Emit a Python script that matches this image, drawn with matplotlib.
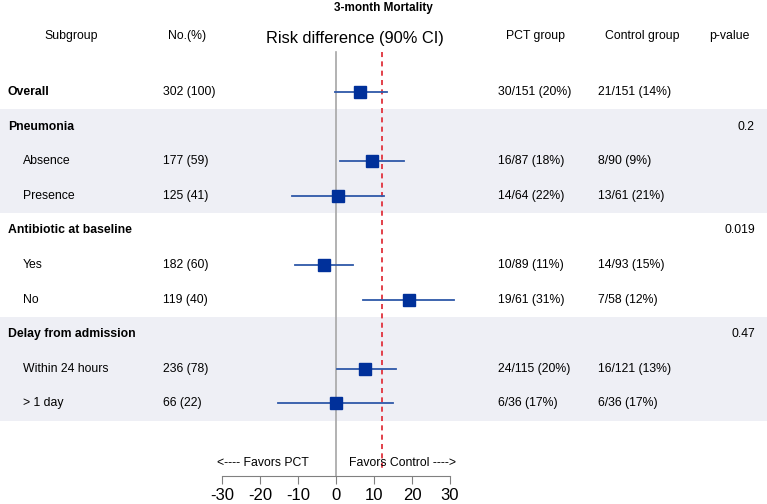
import numpy as np
import matplotlib.pyplot as plt
from matplotlib.patches import Rectangle
from matplotlib.transforms import blended_transform_factory

plt.rcParams['font.family'] = ['Liberation Sans', 'DejaVu Sans']

# Data
subgroups = ["Overall", "Pneumonia", "Absence", "Presence", "Antibiotic at baseline",
             "Yes", "No", "Delay from admission", "Within 24 hours", "> 1 day"]
is_header = [True, True, False, False, True, False, False, True, False, False]
n_pct = ["302 (100)", "", "177 (59)", "125 (41)", "", "182 (60)", "119 (40)",
         "", "236 (78)", "66 (22)"]
pct_group = ["30/151 (20%)", "", "16/87 (18%)", "14/64 (22%)", "", "10/89 (11%)",
             "19/61 (31%)", "", "24/115 (20%)", "6/36 (17%)"]
control_group = ["21/151 (14%)", "", "8/90 (9%)", "13/61 (21%)", "", "14/93 (15%)",
                 "7/58 (12%)", "", "16/121 (13%)", "6/36 (17%)"]
p_values = ["", "0.2", "", "", "0.019", "", "", "0.47", "", ""]
rd = [6.4, None, 9.5, 0.6, None, -3.2, 19.1, None, 7.6, 0.0]
rd_lo = [-0.2, None, 1.1, -11.6, None, -10.7, 7.1, None, 0.3, -15.3]
rd_hi = [13.3, None, 17.9, 12.6, None, 4.4, 31.0, None, 15.7, 15.1]
ref_line = 12
xticks = [-30, -20, -10, 0, 10, 20, 30]
shaded = [(1, 3), (7, 9)]

W, H = 767, 504
fig = plt.figure(figsize=(W / 100, H / 100), dpi=100)
# forest axes covers pixel x 222..450, full height
ax = fig.add_axes([222 / W, 0, 228 / W, 1])
row0, rowh = 92, 34.6
ax.set_xlim(-30, 30)
ax.set_ylim((H - row0) / rowh, -row0 / rowh)

def px2row(py):
    return (py - row0) / rowh

tr = blended_transform_factory(fig.transFigure, ax.transData)

# shaded bands across the full width
for a, b in shaded:
    ax.add_patch(Rectangle((0, a - 0.5), 1, b - a + 1, transform=tr, clip_on=False,
                           facecolor='#EEEFF5', edgecolor='none', zorder=0))

# reference lines
ax.plot([0, 0], [px2row(52), px2row(476)], color='#A6A6A6', lw=1.2, zorder=2)
ax.plot([ref_line, ref_line], [px2row(52), px2row(472)], color='#E2404A', lw=1.4,
        ls=(0, (2.6, 2.2)), zorder=2)

# estimates
for i in range(len(subgroups)):
    if rd[i] is None:
        continue
    ax.plot([rd_lo[i], rd_hi[i]], [i, i], color='#2E58A8', lw=1.3, zorder=3, clip_on=False)
    ax.plot(rd[i], i, marker='s', ms=8.5, color='#00309A', zorder=4, clip_on=False)

# axis
for s in ['top', 'left', 'right']:
    ax.spines[s].set_visible(False)
ax.spines['bottom'].set_position(('data', px2row(476)))
ax.spines['bottom'].set_color('#808080')
ax.set_xticks(xticks)
ax.set_xticklabels([str(t) for t in xticks], fontsize=12)
ax.tick_params(axis='x', direction='out', length=6, color='#808080', pad=2.5)
ax.set_yticks([])
ax.patch.set_alpha(0)

fs = 8.8
# text columns
for i, name in enumerate(subgroups):
    if is_header[i]:
        ax.text(8 / W, i, name, transform=tr, fontsize=fs, fontweight='bold', va='center')
    else:
        ax.text(23 / W, i, name, transform=tr, fontsize=fs, va='center')
    ax.text(163 / W, i, n_pct[i], transform=tr, fontsize=fs, va='center')
    ax.text(498 / W, i, pct_group[i], transform=tr, fontsize=fs, va='center')
    ax.text(598 / W, i, control_group[i], transform=tr, fontsize=fs, va='center')
    ax.text(755 / W, i, p_values[i], transform=tr, fontsize=fs, va='center', ha='right')

# headers
ax.text(383 / W, px2row(8), "3-month Mortality", transform=tr, fontsize=8.5,
        fontweight='bold', ha='center', va='center')
hy = px2row(36)
ax.text(71 / W, hy, "Subgroup", transform=tr, fontsize=fs, ha='center', va='center')
ax.text(187 / W, hy, "No.(%)", transform=tr, fontsize=fs, ha='center', va='center')
ax.text(355 / W, px2row(39), "Risk difference (90% CI)", transform=tr, fontsize=11.8,
        ha='center', va='center')
ax.text(536 / W, hy, "PCT group", transform=tr, fontsize=fs, ha='center', va='center')
ax.text(642 / W, hy, "Control group", transform=tr, fontsize=fs, ha='center', va='center')
ax.text(729 / W, hy, "p-value", transform=tr, fontsize=fs, ha='center', va='center')

fy = px2row(463)
ax.text(309 / W, fy, "<---- Favors PCT", transform=tr, fontsize=fs, ha='right', va='center')
ax.text(349 / W, fy, "Favors Control ---->", transform=tr, fontsize=fs, ha='left', va='center')

fig.savefig('out.png', dpi=100)
